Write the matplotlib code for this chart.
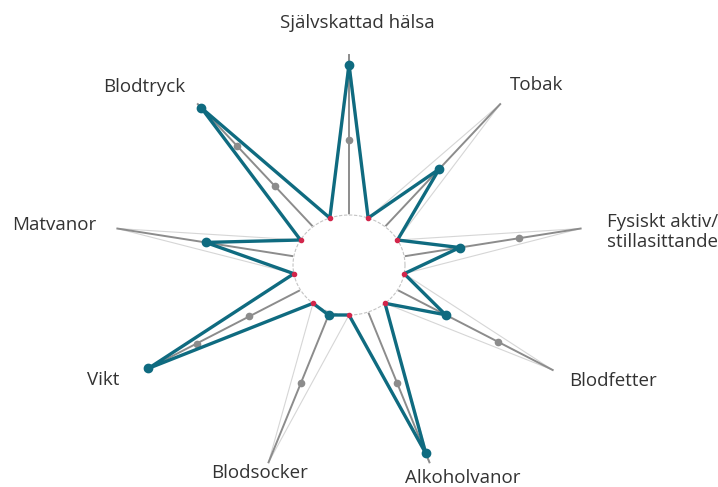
import numpy as np
import matplotlib.pyplot as plt

# axes of the star, clockwise from the top
categories = ['Självskattad hälsa', 'Tobak', 'Fysiskt aktiv/\nstillasittande', 'Blodfetter',
              'Alkoholvanor', 'Blodsocker', 'Vikt', 'Matvanor', 'Blodtryck']
teal_values = [94, 47, 31.5, 31, 94, 2, 98, 50, 97]
gray_values_a = [47, np.nan, 65, 65, 47, 47, 33, np.nan, 33]
gray_values_b = [np.nan, np.nan, np.nan, np.nan, np.nan, np.nan, 67, np.nan, 66]
max_values = [100] * 9

# layout: label anchors in pixels (x, y from top)
LABEL_POS = [(357, 23, 'center'), (510, 85, 'left'), (607, 232, 'left'), (569, 381, 'left'),
             (405, 478, 'left'), (211, 473, 'left'), (87, 380, 'left'), (12, 225, 'left'),
             (103, 87, 'left')]

TEAL = '#0f6b80'
GRAY = '#8c8c8c'
LIGHT = '#d6d6d6'
RED = '#d2264b'
R0 = 50.0      # hole radius
RMAX = 210.0   # radius of value 100
CX, CY, SX = 349, 265, 1.12

n = len(categories)
theta = np.deg2rad(90 - 40 * np.arange(n))
valley = theta + np.deg2rad(20)   # between axis i-1 and axis i


def rad(v):
    return R0 + np.asarray(v, dtype=float) / 100.0 * (RMAX - R0)


def star(vals):
    th, rr = [], []
    for i in range(n):
        th += [valley[i], theta[i]]
        rr += [R0, rad(vals[i])]
    th = np.array(th + [th[0]])
    rr = np.array(rr + [rr[0]])
    return rr * np.cos(th), rr * np.sin(th)


fig = plt.figure(figsize=(7.18, 4.87), dpi=100)
ax = fig.add_axes([0, 0, 1, 1])
ax.set_xlim(-CX / SX, (718 - CX) / SX)
ax.set_ylim(-(487 - CY), CY)
ax.axis('off')

# max reference star
x, y = star(max_values)
ax.plot(x, y, color=LIGHT, lw=0.8, zorder=1)

# spokes
for t in theta:
    ax.plot([R0 * np.cos(t), RMAX * np.cos(t)], [R0 * np.sin(t), RMAX * np.sin(t)],
            color=GRAY, lw=1.4, zorder=2)

# hole
ph = np.linspace(0, 2 * np.pi, 200)
ax.fill(R0 * np.cos(ph), R0 * np.sin(ph), color='white', zorder=3)
ax.plot(R0 * np.cos(ph), R0 * np.sin(ph), color='#c4c4c4', lw=0.8, ls=(0, (3, 1.5)), zorder=3)

# gray markers
for vals in (gray_values_a, gray_values_b):
    r = rad(vals)
    ax.plot(r * np.cos(theta), r * np.sin(theta), 'o', color=GRAY, ms=4.5, zorder=4)

# teal star
x, y = star(teal_values)
ax.plot(x, y, color=TEAL, lw=2.4, zorder=5, solid_joinstyle='round')
r = rad(teal_values)
ax.plot(r * np.cos(theta), r * np.sin(theta), 'o', color=TEAL, ms=6, zorder=6)
ax.plot(R0 * np.cos(valley), R0 * np.sin(valley), 'o', color=RED, ms=3, zorder=6)

for lab, (px, py, ha) in zip(categories, LABEL_POS):
    fig.text(px / 718, 1 - py / 487, lab, ha=ha, va='center', fontsize=13.5,
             family='Open Sans', color='#333333', linespacing=1.1)

fig.savefig('out.png', dpi=100)
